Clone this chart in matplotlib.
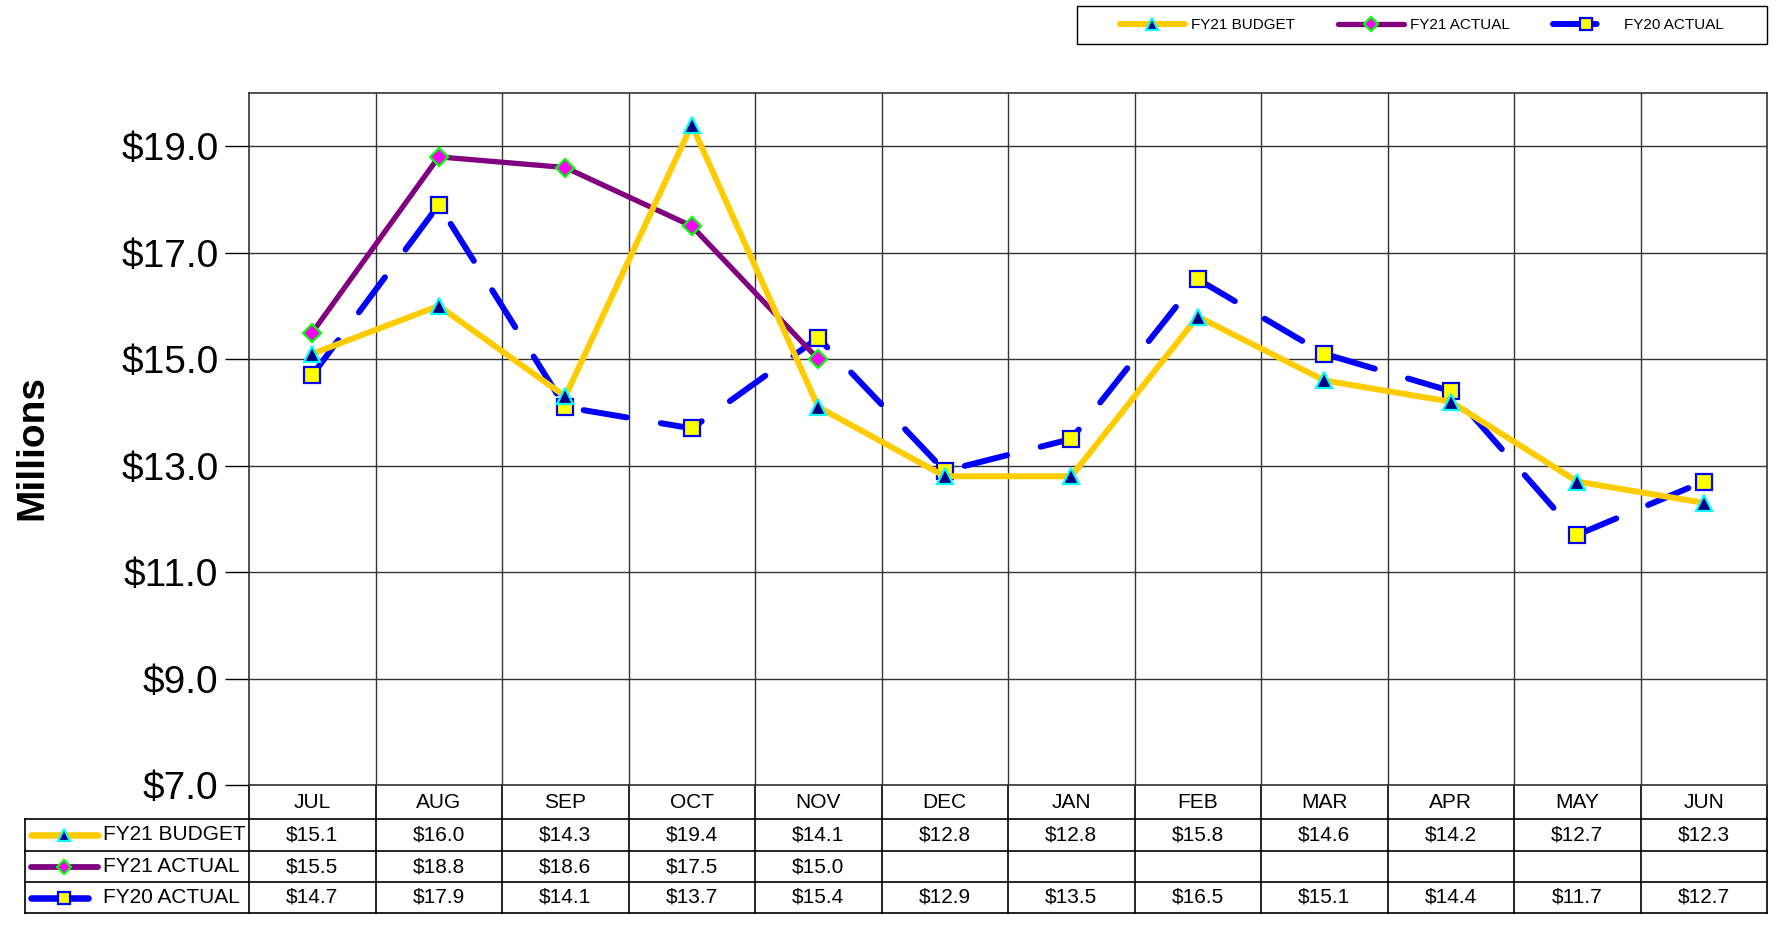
import numpy as np
import matplotlib.pyplot as plt
from matplotlib.lines import Line2D
from matplotlib.patches import Rectangle
import matplotlib.transforms as mtransforms

plt.rcParams['font.family'] = ['Liberation Sans', 'DejaVu Sans']

months = ['JUL', 'AUG', 'SEP', 'OCT', 'NOV', 'DEC', 'JAN', 'FEB', 'MAR', 'APR', 'MAY', 'JUN']
fy21_budget = [15.1, 16.0, 14.3, 19.4, 14.1, 12.8, 12.8, 15.8, 14.6, 14.2, 12.7, 12.3]
fy21_actual = [15.5, 18.8, 18.6, 17.5, 15.0]
fy20_actual = [14.7, 17.9, 14.1, 13.7, 15.4, 12.9, 13.5, 16.5, 15.1, 14.4, 11.7, 12.7]
series_names = ['FY21 BUDGET', 'FY21 ACTUAL', 'FY20 ACTUAL']
yticks = [7, 9, 11, 13, 15, 17, 19]

W, H = 1776, 935
fig = plt.figure(figsize=(W / 100, H / 100), dpi=100)
ax = fig.add_axes([249 / W, 1 - 785 / H, 1518 / W, 692 / H])

# styles
s_budget = dict(color='#FFCC00', lw=4.3, marker='^', ms=11, mfc='#000080', mec='#00FFFF', mew=1.6,
                solid_capstyle='round')
s_actual = dict(color='#800080', lw=3.8, marker='D', ms=9.5, mfc='#FF00FF', mec='#00FF00', mew=1.6,
                solid_capstyle='round')
s_fy20 = dict(color='#0000FF', lw=4.3, marker='s', ms=11, mfc='#FFFF00', mec='#0000FF', mew=1.6,
              dash_capstyle='round', dashes=(7.3, 5.8))

x = np.arange(len(months))
ax.plot(x, fy20_actual, zorder=3, **s_fy20)
ax.plot(np.arange(len(fy21_actual)), fy21_actual, zorder=4, **s_actual)
ax.plot(x, fy21_budget, zorder=5, **s_budget)

ax.set_xlim(-0.5, 11.5)
ax.set_ylim(7, 20)
ax.set_yticks(yticks)
ax.set_yticklabels([f'${v:.1f}' for v in yticks], fontsize=28)
ax.tick_params(axis='y', direction='out', length=17, width=1, pad=5)
ax.set_xticks([])
for v in yticks:
    ax.axhline(v, color='#333333', lw=1, zorder=1)
for i in range(1, len(months)):
    ax.axvline(i - 0.5, color='#333333', lw=1, zorder=1)
for sp in ax.spines.values():
    sp.set_color('#333333')
    sp.set_linewidth(1.2)

fig.text(32 / W, 1 - 447 / H, 'Millions', rotation=90, fontsize=28, fontweight='bold',
         ha='center', va='center')

# data table under the plot
trans = mtransforms.blended_transform_factory(ax.transData, ax.transAxes)
ph = 692.0
rows_y = [0, -34 / ph, -66 / ph, -97 / ph, -128 / ph]
lab_left = (25 - 249) / 1518.0
lc = dict(color='black', lw=1.2, clip_on=False)
for yy in rows_y[1:]:
    ax.plot([lab_left, 1], [yy, yy], transform=ax.transAxes, **lc)
ax.plot([lab_left, lab_left], [rows_y[1], rows_y[-1]], transform=ax.transAxes, **lc)
for i in range(len(months) + 1):
    ax.plot([i - 0.5, i - 0.5], [0, rows_y[-1]], transform=trans, **lc)

centers = [(rows_y[k] + rows_y[k + 1]) / 2 for k in range(4)]
for i, m in enumerate(months):
    ax.text(i, centers[0], m, transform=trans, ha='center', va='center', fontsize=15)
table_rows = [fy21_budget, fy21_actual, fy20_actual]
for r, vals in enumerate(table_rows):
    for i, v in enumerate(vals):
        ax.text(i, centers[r + 1], f'${v:.1f}', transform=trans, ha='center', va='center',
                fontsize=15)

styles = [s_budget, s_actual, s_fy20]
for r, (name, st) in enumerate(zip(series_names, styles)):
    yy = centers[r + 1]
    x0, x1 = (31 - 249) / 1518.0, (98 - 249) / 1518.0
    if r == 2:
        x1 = (88 - 249) / 1518.0
    ln = Line2D([x0, x1], [yy, yy], transform=ax.transAxes, clip_on=False,
                color=st['color'], lw=st['lw'] * 1.1, solid_capstyle='round')
    ax.add_line(ln)
    mk = Line2D([(64 - 249) / 1518.0], [yy], transform=ax.transAxes, clip_on=False, ls='none',
                marker=st['marker'], ms=st['ms'] * 0.8, mfc=st['mfc'], mec=st['mec'], mew=st['mew'])
    ax.add_line(mk)
    ax.text((103 - 249) / 1518.0, yy, name, transform=ax.transAxes, ha='left', va='center',
            fontsize=15)

# legend at top right
fig.add_artist(Rectangle((1077 / W, 1 - 44 / H), 690 / W, 38 / H, transform=fig.transFigure,
                         fill=False, edgecolor='black', lw=1))
handles = [Line2D([], [], **{**s_budget, 'ms': 8}),
           Line2D([], [], **{**s_actual, 'ms': 7}),
           Line2D([], [], **{**s_fy20, 'ms': 8})]
fig.legend(handles, series_names, loc='center', bbox_to_anchor=(1422 / W, 1 - 25 / H), ncol=3,
           frameon=False, fontsize=11, handlelength=4.3, handletextpad=0.4, columnspacing=2.8,
           numpoints=1)

fig.savefig('out.png', dpi=100)
